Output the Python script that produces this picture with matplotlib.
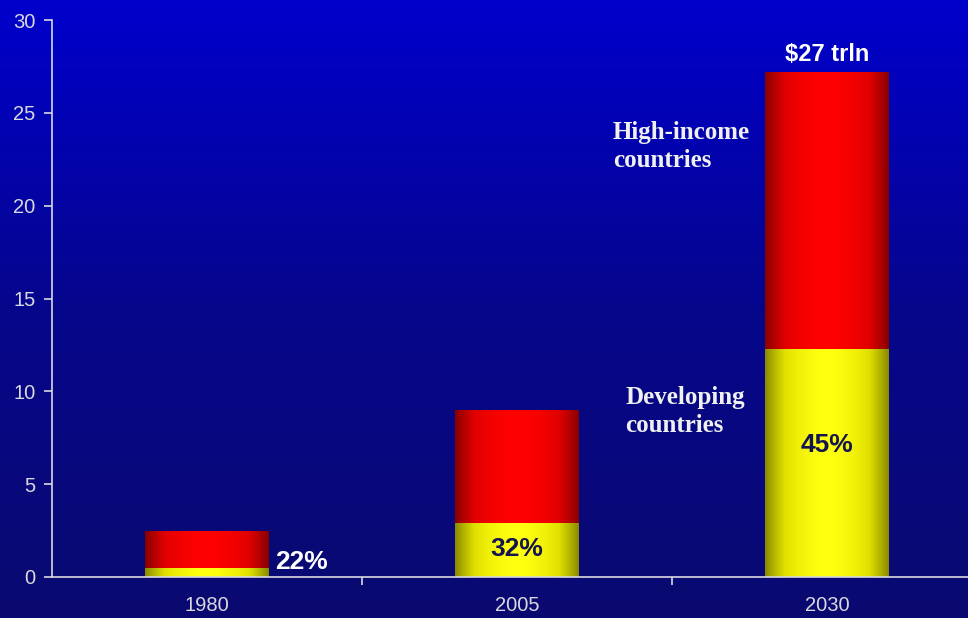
import matplotlib
matplotlib.use("Agg")
import matplotlib.pyplot as plt
import numpy as np
from matplotlib.colors import LinearSegmentedColormap

years = ["1980", "2005", "2030"]
developing = [0.5, 2.9, 12.3]
high_income = [2.0, 6.1, 14.9]
shares = ["22%", "32%", "45%"]
total_label = "$27 trln"

W, H = 968, 618
fig = plt.figure(figsize=(W / 100, H / 100), dpi=100)

# background gradient (brighter blue at top)
bg = fig.add_axes([0, 0, 1, 1])
bg.axis("off")
grad = np.linspace(0, 1, 256).reshape(-1, 1)
bg_cmap = LinearSegmentedColormap.from_list("bg", ["#0000cc", "#06068c", "#0a0a70"])
bg.imshow(grad, aspect="auto", cmap=bg_cmap, extent=[0, 1, 0, 1])

ax = fig.add_axes([52 / W, 41 / H, 930 / W, 557 / H])
ax.patch.set_alpha(0)

x = np.arange(len(years))
bw = 0.4
b1 = ax.bar(x, developing, bw, color="#ffff00", linewidth=0)
b2 = ax.bar(x, high_income, bw, bottom=developing, color="#ff0000", linewidth=0)

# horizontal shading inside each bar: dark edges, bright centre
hx = np.abs(np.linspace(-1, 1, 256)) ** 1.8
shade = hx.reshape(1, -1)
cm_y = LinearSegmentedColormap.from_list("y", ["#ffff10", "#e0e000", "#8a8a00"])
cm_r = LinearSegmentedColormap.from_list("r", ["#ff0000", "#e00000", "#880000"])
for bars, cm in ((b1, cm_y), (b2, cm_r)):
    for p in bars:
        x0, y0 = p.get_x(), p.get_y()
        im = ax.imshow(shade, aspect="auto", cmap=cm, vmin=0, vmax=1,
                       extent=[x0, x0 + p.get_width(), y0, y0 + p.get_height()],
                       zorder=2)
        im.set_clip_path(p)

ax.set_xlim(-0.5, 2.5)
ax.set_ylim(0, 30)
ax.set_yticks([0, 5, 10, 15, 20, 25, 30])
ax.set_xticks(x)
ax.set_xticklabels(years)
ax.set_xticks([0.5, 1.5], minor=True)

light = "#d8d8e0"
for s in ("top", "right"):
    ax.spines[s].set_visible(False)
for s in ("left", "bottom"):
    ax.spines[s].set_color(light)
    ax.spines[s].set_linewidth(1.2)
ax.tick_params(axis="y", colors=light, labelsize=14.5, length=6, width=1.2, pad=6)
ax.tick_params(axis="x", which="major", colors=light, labelsize=14.5, length=0, pad=14)
ax.tick_params(axis="x", which="minor", colors=light, length=6, width=1.2, direction="out")
for lab in ax.get_xticklabels() + ax.get_yticklabels():
    lab.set_fontfamily(["Liberation Sans", "DejaVu Sans"])

narrow = ["Liberation Sans Narrow", "Liberation Sans", "DejaVu Sans"]
ax.text(x[0] + bw / 2 + 0.02, 0.15, shares[0], color="white", fontsize=19,
        fontweight="bold", family=narrow, ha="left", va="bottom", zorder=5)
ax.text(x[1], developing[1] / 2 + 0.05, shares[1], color="#141450", fontsize=19,
        fontweight="bold", family=narrow, ha="center", va="center", zorder=5)
ax.text(x[2], 7.1, shares[2], color="#141450", fontsize=19,
        fontweight="bold", family=narrow, ha="center", va="center", zorder=5)
ax.text(x[2], developing[2] + high_income[2] + 0.3, total_label, color="white",
        fontsize=17, fontweight="bold", family=["Liberation Sans", "DejaVu Sans"],
        ha="center", va="bottom", zorder=5)

serif = ["Liberation Serif", "DejaVu Serif"]
ax.text(1.31, 23.2, "High-income\ncountries", color="#f0f0f0", fontsize=18,
        fontweight="bold", family=serif, ha="left", va="center", linespacing=1.3)
ax.text(1.35, 8.9, "Developing\ncountries", color="#f0f0f0", fontsize=18,
        fontweight="bold", family=serif, ha="left", va="center", linespacing=1.3)

fig.savefig("out.png", dpi=100)
